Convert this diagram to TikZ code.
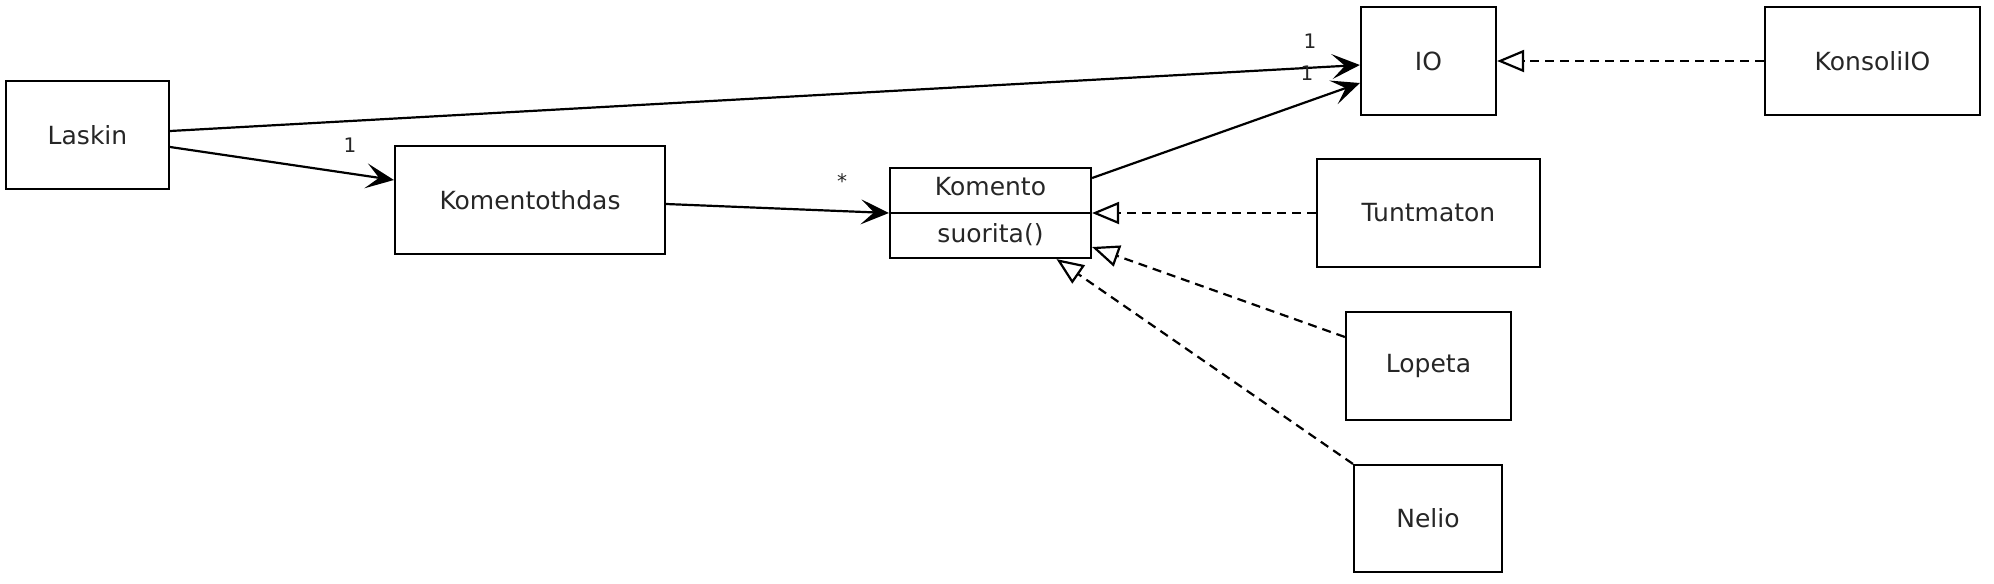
\documentclass[tikz,border=0pt]{standalone}
\usepackage{fontspec}
\setmainfont{DejaVu Sans}
\usetikzlibrary{arrows.meta,calc}
\begin{document}
\begin{tikzpicture}[x=0.5pt,y=-0.5pt,
  cls/.style={draw,line width=1.1pt,minimum height=54pt,inner sep=0pt,text=black!85,font=\fontsize{12.5}{14}\selectfont},
  txt/.style={inner sep=0pt,text=black!85,font=\fontsize{12.5}{14}\selectfont},
  assoc/.style={line width=1.1pt,-{Stealth[length=14pt,width=12.5pt,inset=6.5pt]}},
  real/.style={line width=1.1pt,dash pattern=on 4.5pt off 3pt,-{Triangle[open,length=13.5pt,width=11pt]}},
  mult/.style={font=\fontsize{10}{11}\selectfont,inner sep=0pt,text=black!85}]
\useasboundingbox (0,0) rectangle (1994,584);
\node[cls,minimum width=81.5pt] (Laskin) at (87.5,135) {Laskin};
\node[cls,minimum width=135pt] (Komentothdas) at (530,200) {Komentothdas};
\node[draw,line width=1.1pt,minimum width=100.5pt,minimum height=45pt,inner sep=0pt] (Komento) at (990.5,213) {};
\draw[line width=1.1pt] (Komento.west) -- (Komento.east);
\node[txt] (kname) at (990.5,187) {Komento};
\node[txt] (kop) at (990.5,235) {suorita()};
\node[cls,minimum width=67.5pt] (IO) at (1428.5,61) {IO};
\node[cls,minimum width=107.5pt] (KonsoliIO) at (1872.5,61) {KonsoliIO};
\node[cls,minimum width=111.5pt] (Tuntmaton) at (1428.5,213) {Tuntmaton};
\node[cls,minimum width=82.5pt] (Lopeta) at (1428.5,366) {Lopeta};
\node[cls,minimum width=74pt,minimum height=53.5pt] (Nelio) at (1428,518.5) {Nelio};

\draw[assoc] ($(Laskin.east)+(0,-4)$) -- ($(IO.west)+(0,4)$);
\draw[assoc] ($(Laskin.east)+(0,12)$) -- ($(Komentothdas.west)+(0,-20)$);
\draw[assoc] ($(Komentothdas.east)+(0,4)$) -- (Komento.west);
\draw[assoc] ($(Komento.east)+(0,-35)$) -- ($(IO.west)+(0,22)$);

\draw[real] (KonsoliIO.west) -- (IO.east);
\draw[real] (Tuntmaton.west) -- (Komento.east);
\draw[real] ($(Lopeta.west)+(0,-29)$) -- ($(Komento.east)+(0,34)$);
\draw[real] (Nelio.north west) -- ($(Komento.south)+(66,0)$);

\node[mult] (m1) at (350,145) {1};
\node[mult] (m2) at (1310,41) {1};
\node[mult] (m3) at (1307,73) {1};
\node[mult] (m4) at (842,181) {*};
\end{tikzpicture}
\end{document}
